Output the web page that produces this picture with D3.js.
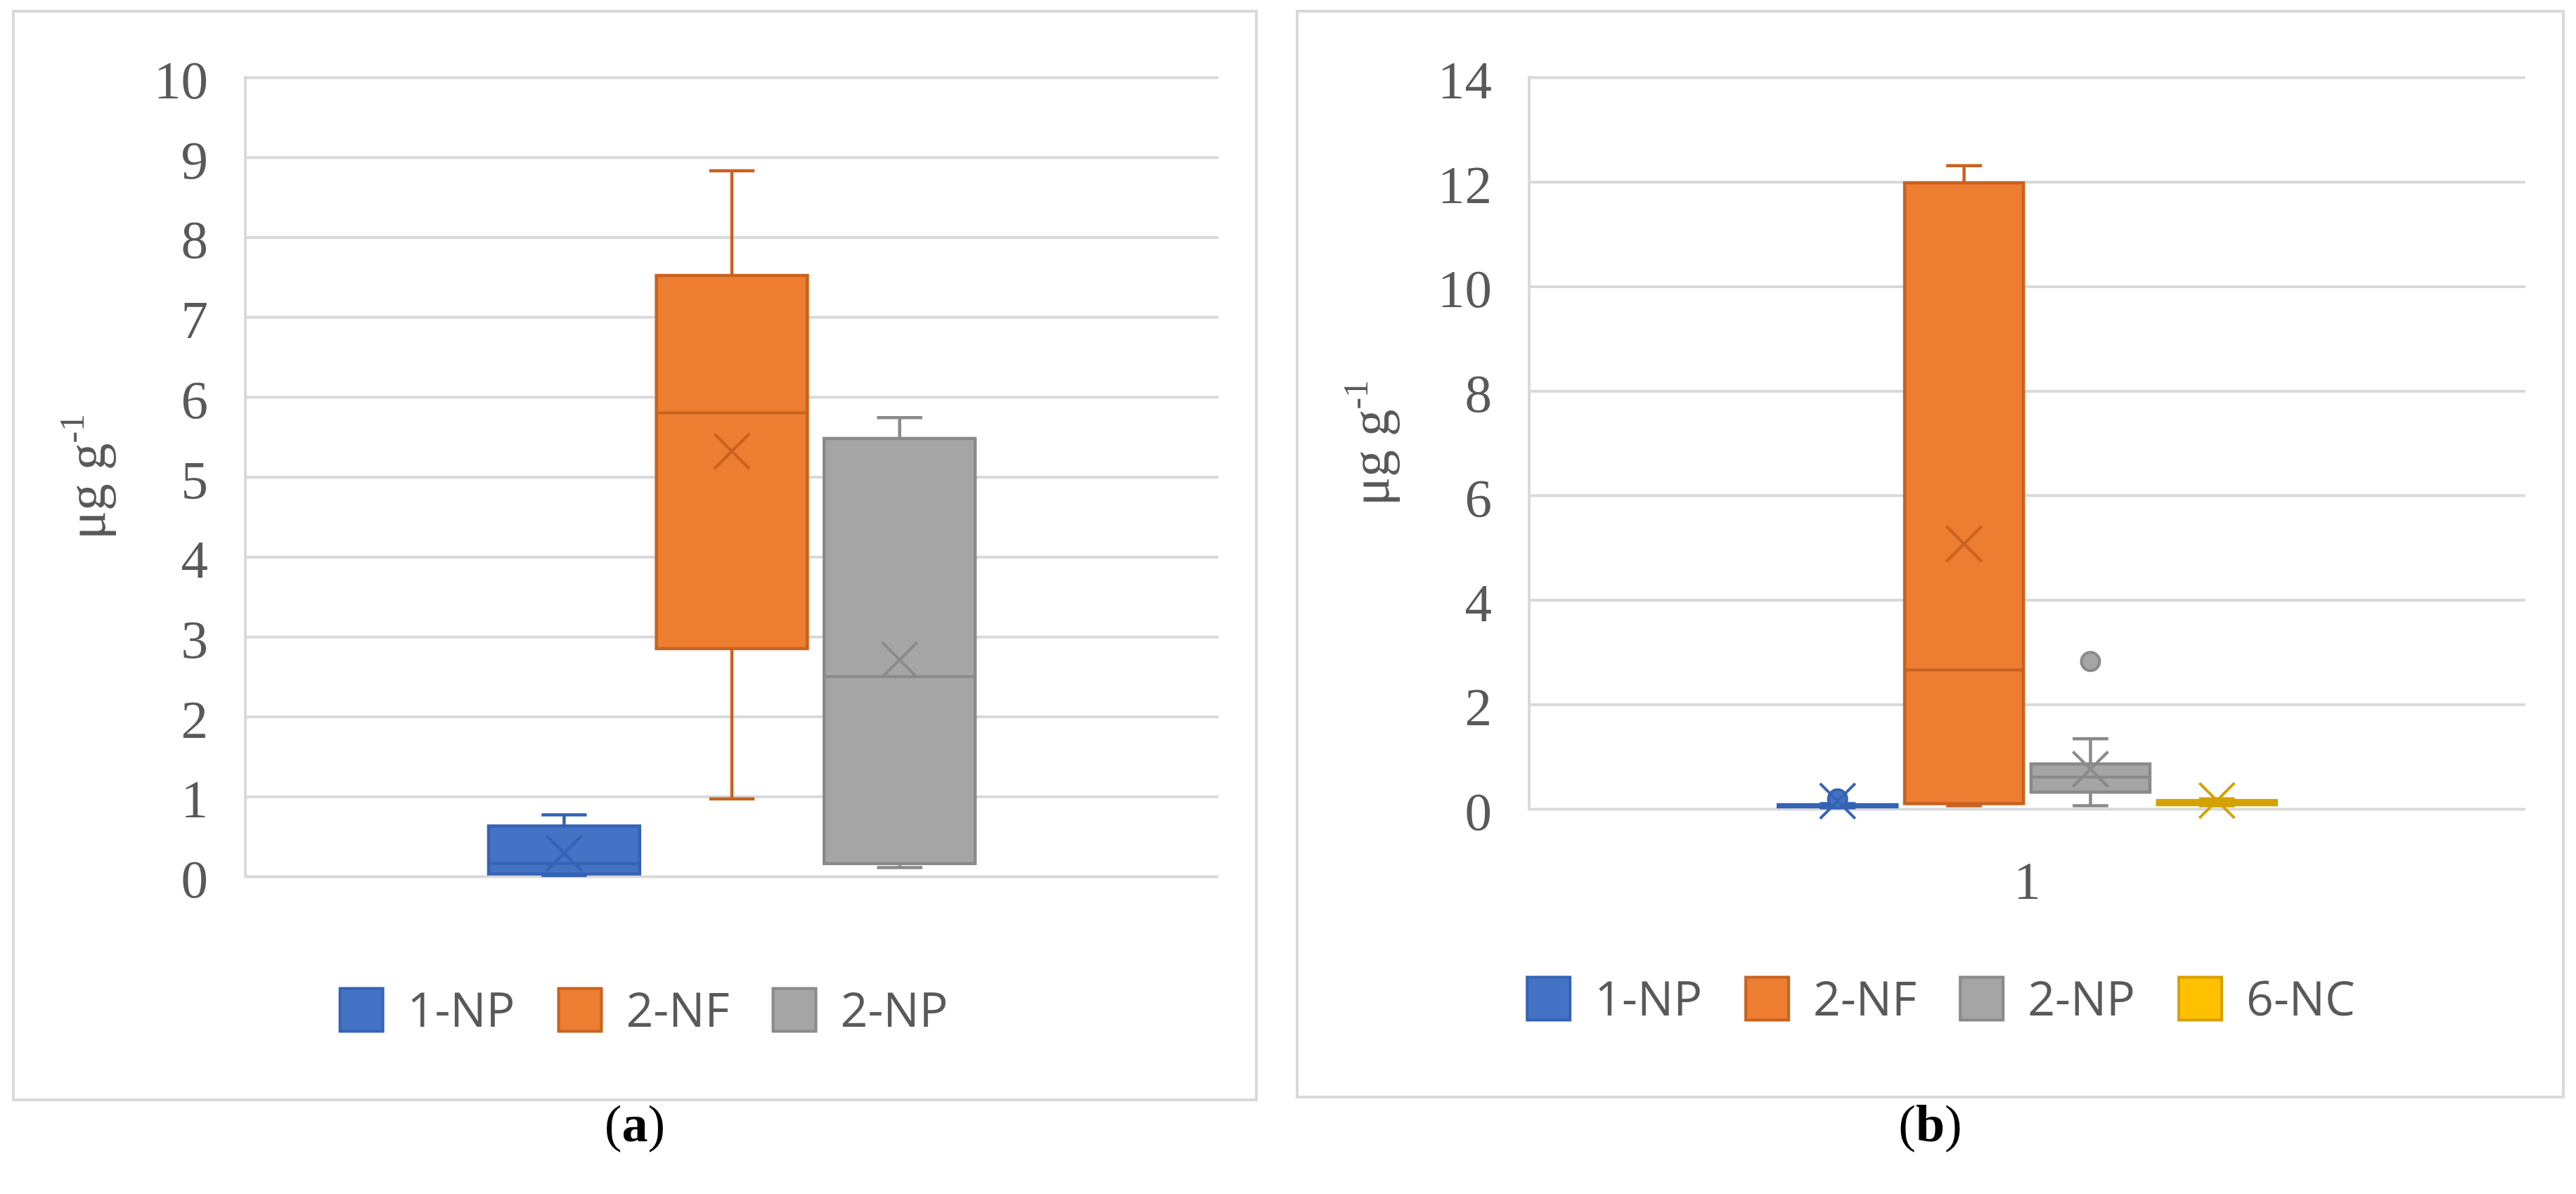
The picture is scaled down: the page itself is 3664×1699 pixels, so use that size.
<!DOCTYPE html>
<html><head><meta charset="utf-8">
<script src="https://cdn.jsdelivr.net/npm/d3@7"></script>
<style>body{margin:0;background:#fff}</style>
</head><body><svg id="c" width="3664" height="1699"></svg>
<script>
// ---------- Panel (a) data ----------
const seriesA     = ["1-NP", "2-NF", "2-NP"];
const categoriesA = [""];
const minA        = [0.01, 0.97, 0.11];
const q1A         = [0.03, 2.85, 0.16];
const medianA     = [0.16, 5.80, 2.50];
const q3A         = [0.63, 7.52, 5.48];
const maxA        = [0.77, 8.83, 5.74];
const meanA       = [0.29, 5.32, 2.71];
const outliersA   = [[], [], []];
const ticksA      = [0, 1, 2, 3, 4, 5, 6, 7, 8, 9, 10];

// ---------- Panel (b) data ----------
const seriesB     = ["1-NP", "2-NF", "2-NP", "6-NC"];
const categoriesB = ["1"];
const minB        = [0.02, 0.06, 0.06, 0.06];
const q1B         = [0.04, 0.10, 0.32, 0.08];
const medianB     = [0.06, 2.66, 0.61, 0.12];
const q3B         = [0.08, 11.98, 0.86, 0.16];
const maxB        = [0.10, 12.31, 1.34, 0.19];
const meanB       = [0.15, 5.07, 0.76, 0.16];
const outliersB   = [[0.19], [], [2.82], []];
const ticksB      = [0, 2, 4, 6, 8, 10, 12, 14];

const fills   = ["#4472C4", "#ED7D31", "#A5A5A5", "#FFC000"];
const strokes = ["#3563B4", "#C8621F", "#8A8A8A", "#D4A200"];

const svg = d3.select("#c");

const panels = [
  {border: [19, 16, 1787, 1565], plot: {l: 349, r: 1733, t: 110, b: 1247},
   series: seriesA, cats: categoriesA, min: minA, q1: q1A, med: medianA, q3: q3A, max: maxA,
   mean: meanA, out: outliersA, ticks: ticksA, pad: 0.1, legendY: 1437, legendCx: 915, caption: "a"},
  {border: [1845, 16, 3646, 1561], plot: {l: 2175, r: 3592, t: 110, b: 1151},
   series: seriesB, cats: categoriesB, min: minB, q1: q1B, med: medianB, q3: q3B, max: maxB,
   mean: meanB, out: outliersB, ticks: ticksB, pad: 0.06, legendY: 1421, legendCx: 2760, caption: "b"}
];

const serif = "'Liberation Serif', 'DejaVu Serif', serif";
const sans = "'Open Sans', 'Liberation Sans', sans-serif";

panels.forEach(p => {
  const [bx0, by0, bx1, by1] = p.border;
  const g = svg.append("g");
  g.append("rect").attr("x", bx0).attr("y", by0).attr("width", bx1 - bx0).attr("height", by1 - by0)
    .attr("fill", "#fff").attr("stroke", "#d9d9d9").attr("stroke-width", 4);

  const y = d3.scaleLinear().domain([0, d3.max(p.ticks)]).range([p.plot.b, p.plot.t]);
  const x0 = d3.scaleBand().domain(p.cats).range([p.plot.l, p.plot.r]).paddingInner(0).paddingOuter(0.5);
  const x1 = d3.scaleBand().domain(p.series).range([0, x0.bandwidth()]).paddingInner(p.pad).paddingOuter(0);

  // gridlines
  const yAxis = d3.axisLeft(y).tickValues(p.ticks).tickSize(-(p.plot.r - p.plot.l)).tickFormat("");
  const ga = g.append("g").attr("transform", `translate(${p.plot.l},0)`).call(yAxis);
  ga.select(".domain").remove();
  ga.selectAll(".tick line").attr("stroke", "#d9d9d9").attr("stroke-width", 4);
  // vertical axis line
  g.append("line").attr("x1", p.plot.l).attr("x2", p.plot.l).attr("y1", y(d3.max(p.ticks)) - 2).attr("y2", y(0) + 2)
    .attr("stroke", "#d9d9d9").attr("stroke-width", 4);
  // tick labels
  g.selectAll(".tl").data(p.ticks).join("text")
    .attr("x", p.plot.l - 53).attr("y", d => y(d)).attr("dy", "0.39em")
    .attr("text-anchor", "end").attr("font-family", serif).attr("font-size", 77).attr("fill", "#595959")
    .text(d => d);
  // category labels
  g.selectAll(".cl").data(p.cats).join("text")
    .attr("x", d => x0(d) + x0.bandwidth() / 2).attr("y", p.plot.b + 128)
    .attr("text-anchor", "middle").attr("font-family", serif).attr("font-size", 77).attr("fill", "#595959")
    .text(d => d);
  // y title
  const tt = g.append("text")
    .attr("transform", `translate(${p.plot.l - 200},${(p.plot.t + p.plot.b) / 2}) rotate(-90)`)
    .attr("text-anchor", "middle").attr("font-family", serif).attr("font-size", 77).attr("fill", "#595959");
  tt.append("tspan").text("μg g");
  tt.append("tspan").attr("font-size", 50).attr("dy", -30).text("-1");

  // boxes
  const cat = p.cats[0];
  p.series.forEach((s, i) => {
    const bx = x0(cat) + x1(s);
    const bw = x1.bandwidth();
    const cx = bx + bw / 2;
    const cw = bw * 0.3;
    const sc = strokes[i];
    const bg = g.append("g");
    // whiskers
    bg.append("line").attr("x1", cx).attr("x2", cx).attr("y1", y(p.q3[i])).attr("y2", y(p.max[i]))
      .attr("stroke", sc).attr("stroke-width", 4.5);
    bg.append("line").attr("x1", cx - cw / 2).attr("x2", cx + cw / 2).attr("y1", y(p.max[i])).attr("y2", y(p.max[i]))
      .attr("stroke", sc).attr("stroke-width", 4.5);
    bg.append("line").attr("x1", cx).attr("x2", cx).attr("y1", y(p.q1[i])).attr("y2", y(p.min[i]))
      .attr("stroke", sc).attr("stroke-width", 4.5);
    bg.append("line").attr("x1", cx - cw / 2).attr("x2", cx + cw / 2).attr("y1", y(p.min[i])).attr("y2", y(p.min[i]))
      .attr("stroke", sc).attr("stroke-width", 4.5);
    // box
    bg.append("rect").attr("x", bx).attr("y", y(p.q3[i])).attr("width", bw)
      .attr("height", Math.max(1, y(p.q1[i]) - y(p.q3[i])))
      .attr("fill", fills[i]).attr("stroke", sc).attr("stroke-width", 4.5);
    // median
    bg.append("line").attr("x1", bx).attr("x2", bx + bw).attr("y1", y(p.med[i])).attr("y2", y(p.med[i]))
      .attr("stroke", sc).attr("stroke-width", 4);
    // outliers
    bg.selectAll("circle").data(p.out[i]).join("circle")
      .attr("cx", cx).attr("cy", d => y(d)).attr("r", 13)
      .attr("fill", fills[i]).attr("stroke", sc).attr("stroke-width", 4);
    // mean marker
    const my = y(p.mean[i]), h = 25;
    bg.append("path").attr("d", `M${cx - h},${my - h}L${cx + h},${my + h}M${cx - h},${my + h}L${cx + h},${my - h}`)
      .attr("stroke", sc).attr("stroke-width", 4).attr("fill", "none");
  });

  // legend
  const lg = g.append("g");
  let cur = 0;
  p.series.forEach((s, i) => {
    const it = lg.append("g").attr("transform", `translate(${cur},0)`);
    it.append("rect").attr("x", 2).attr("y", -30.5).attr("width", 61).attr("height", 61)
      .attr("fill", fills[i]).attr("stroke", strokes[i]).attr("stroke-width", 4);
    const t = it.append("text").attr("x", 98).attr("y", 24).attr("font-family", sans).attr("font-size", 68)
      .attr("fill", "#595959").text(s);
    const w = t.node().getComputedTextLength();
    cur += 98 + w + (i < p.series.length - 1 ? 60 : 0);
  });
  lg.attr("transform", `translate(${p.legendCx - cur / 2},${p.legendY})`);

  // caption
  const cap = svg.append("text").attr("x", (bx0 + bx1) / 2).attr("y", 1624).attr("text-anchor", "middle")
    .attr("font-family", serif).attr("font-size", 74).attr("fill", "#000");
  cap.append("tspan").text("(");
  cap.append("tspan").attr("font-weight", "bold").text(p.caption);
  cap.append("tspan").text(")");
});
</script>
</body></html>
